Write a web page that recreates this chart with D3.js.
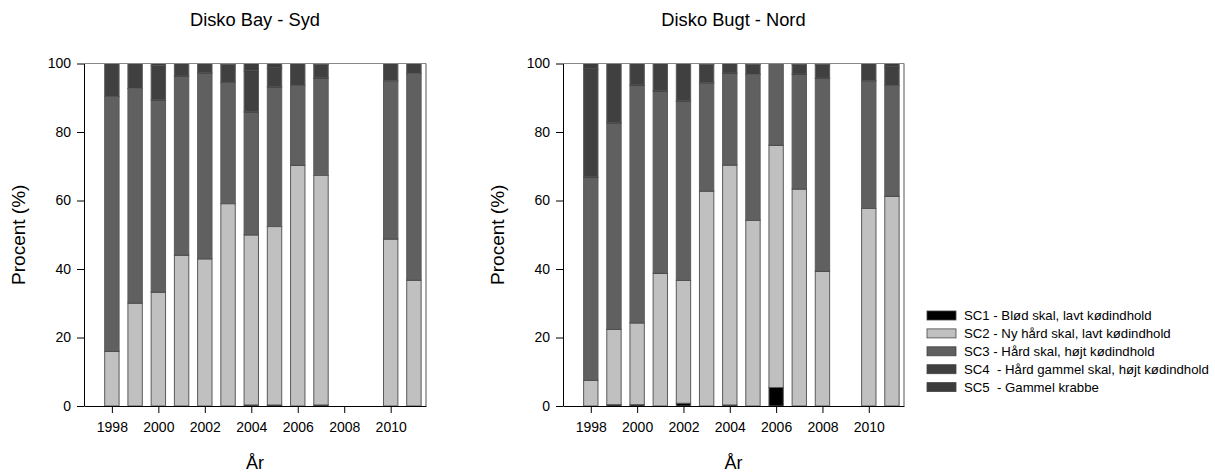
<!DOCTYPE html>
<html>
<head>
<meta charset="utf-8">
<script src="https://cdn.jsdelivr.net/npm/d3@7"></script>
<style>
  body { margin: 0; background: #fff; }
  text { font-family: "Liberation Sans", Arial, sans-serif; fill: #000; white-space: pre; }
  .axis path, .axis line { stroke: #000; }
</style>
</head>
<body>
<svg width="1215" height="472"></svg>
<script>
// Data (percent of each shell condition per year)
var keys = ['SC1', 'SC2', 'SC3', 'SC4', 'SC5'];
var legendLabels = [
  'SC1 - Blød skal, lavt kødindhold',
  'SC2 - Ny hård skal, lavt kødindhold',
  'SC3 - Hård skal, højt kødindhold',
  'SC4  - Hård gammel skal, højt kødindhold',
  'SC5  - Gammel krabbe'
];
var colors = ['#000000', '#c0c0c0', '#606060', '#404040', '#3c3c3c'];
var yTicks = [0, 20, 40, 60, 80, 100];
var xTicks = [1998, 2000, 2002, 2004, 2006, 2008, 2010];

// Disko Bay - Syd
var sydYears = [1998, 1999, 2000, 2001, 2002, 2003, 2004, 2005, 2006, 2007, 2010, 2011];
var sydSC1 = [0, 0, 0, 0, 0, 0, 0.3, 0.3, 0, 0.3, 0, 0];
var sydSC2 = [16.0, 30.1, 33.3, 44.1, 43.0, 59.1, 49.7, 52.1, 70.3, 67.0, 48.8, 36.8];
var sydSC3 = [74.4, 62.6, 56.1, 52.2, 54.3, 35.4, 35.9, 40.8, 23.3, 28.5, 46.2, 60.3];
var sydSC4 = [9.6, 7.3, 10.0, 3.7, 2.7, 5.2, 12.0, 5.5, 6.4, 3.9, 5.0, 2.9];
var sydSC5 = [0, 0, 0.6, 0, 0, 0.3, 2.1, 1.3, 0, 0.3, 0, 0];

// Disko Bugt - Nord
var nordYears = [1998, 1999, 2000, 2001, 2002, 2003, 2004, 2005, 2006, 2007, 2008, 2010, 2011];
var nordSC1 = [0, 0.4, 0.4, 0, 0.8, 0, 0.3, 0, 5.4, 0, 0, 0, 0];
var nordSC2 = [7.5, 22.0, 23.9, 38.8, 35.9, 62.8, 70.1, 54.2, 70.8, 63.4, 39.4, 57.7, 61.3];
var nordSC3 = [59.4, 60.3, 69.4, 53.2, 52.4, 31.6, 26.8, 42.6, 23.8, 33.5, 56.3, 37.3, 32.3];
var nordSC4 = [31.5, 17.3, 6.3, 8.0, 10.9, 5.3, 2.8, 2.9, 0, 2.8, 4.0, 5.0, 5.4];
var nordSC5 = [1.6, 0, 0, 0, 0, 0.3, 0, 0.3, 0, 0.3, 0.3, 0, 1.0];

var svg = d3.select('svg');
var plotTop = 63.5, plotBottom = 406;
var height = plotBottom - plotTop;

function buildRows(years, s1, s2, s3, s4, s5) {
  return years.map(function(yr, i) {
    return {year: yr, SC1: s1[i], SC2: s2[i], SC3: s3[i], SC4: s4[i], SC5: s5[i]};
  });
}

var stack = d3.stack().keys(keys);

function drawPanel(left, right, title, rows) {
  var width = right - left;
  var x = d3.scaleLinear().domain([1996.8, 2011.52]).range([0, width]);
  var y = d3.scaleLinear().domain([0, 100]).range([height, 0]);
  var barW = x(1998.62) - x(1998);

  var g = svg.append('g')
    .attr('transform', 'translate(' + left + ',' + plotTop + ')');

  var layers = stack(rows);

  var layer = g.selectAll('.layer')
    .data(layers)
    .enter().append('g')
    .attr('class', 'layer')
    .attr('fill', function(d, i) { return colors[i]; });

  layer.selectAll('rect')
    .data(function(d) { return d.filter(function(p) { return p[1] - p[0] > 0; }); })
    .enter().append('rect')
    .attr('x', function(d) { return x(d.data.year) - barW / 2; })
    .attr('y', function(d) { return y(d[1]); })
    .attr('width', barW)
    .attr('height', function(d) { return y(d[0]) - y(d[1]); })
    .attr('stroke', '#5a5a5a')
    .attr('stroke-width', 1);

  // black line on top of each segment
  layer.selectAll('line.sep')
    .data(function(d) { return d.filter(function(p) { return p[1] - p[0] > 0 && p[1] < 99.9; }); })
    .enter().append('line')
    .attr('class', 'sep')
    .attr('x1', function(d) { return x(d.data.year) - barW / 2; })
    .attr('x2', function(d) { return x(d.data.year) + barW / 2; })
    .attr('y1', function(d) { return y(d[1]); })
    .attr('y2', function(d) { return y(d[1]); })
    .attr('stroke', '#000')
    .attr('stroke-width', 1);

  // frame top and right
  g.append('line')
    .attr('x1', 0).attr('x2', width).attr('y1', 0).attr('y2', 0)
    .attr('stroke', '#888');
  g.append('line')
    .attr('x1', width).attr('x2', width).attr('y1', 0).attr('y2', height)
    .attr('stroke', '#555');

  g.append('g')
    .attr('class', 'axis')
    .call(d3.axisLeft(y).tickValues(yTicks).tickSize(7).tickSizeOuter(0).tickPadding(6));

  g.append('g')
    .attr('class', 'axis')
    .attr('transform', 'translate(0,' + height + ')')
    .call(d3.axisBottom(x).tickValues(xTicks).tickFormat(d3.format('d')).tickSize(7).tickSizeOuter(0).tickPadding(9));

  g.selectAll('.axis text')
    .attr('fill', '#000')
    .style('font-size', '14px')
    .style('font-family', '"Liberation Sans", Arial, sans-serif');

  g.append('text')
    .attr('x', width / 2)
    .attr('y', 26 - plotTop)
    .attr('text-anchor', 'middle')
    .style('font-size', '18.3px')
    .text(title);

  g.append('text')
    .attr('x', width / 2)
    .attr('y', 469 - plotTop)
    .attr('text-anchor', 'middle')
    .style('font-size', '18px')
    .text('År');

  g.append('text')
    .attr('transform', 'translate(' + (25 - 84) + ',' + (height / 2) + ') rotate(-90)')
    .attr('text-anchor', 'middle')
    .style('font-size', '19px')
    .text('Procent (%)');
}

drawPanel(84, 426, 'Disko Bay - Syd', buildRows(sydYears, sydSC1, sydSC2, sydSC3, sydSC4, sydSC5));
drawPanel(563, 904, 'Disko Bugt - Nord', buildRows(nordYears, nordSC1, nordSC2, nordSC3, nordSC4, nordSC5));

// Legend
var legend = svg.append('g')
  .attr('transform', 'translate(927,311)');

var item = legend.selectAll('g')
  .data(legendLabels)
  .enter().append('g')
  .attr('transform', function(d, i) { return 'translate(0,' + (i * 17.9) + ')'; });

item.append('rect')
  .attr('width', 29)
  .attr('height', 9)
  .attr('fill', function(d, i) { return colors[i]; })
  .attr('stroke', '#444')
  .attr('stroke-width', 0.8);

item.append('text')
  .attr('x', 37)
  .attr('y', 9)
  .style('font-size', '13.2px')
  .text(function(d) { return d; });
</script>
</body>
</html>
